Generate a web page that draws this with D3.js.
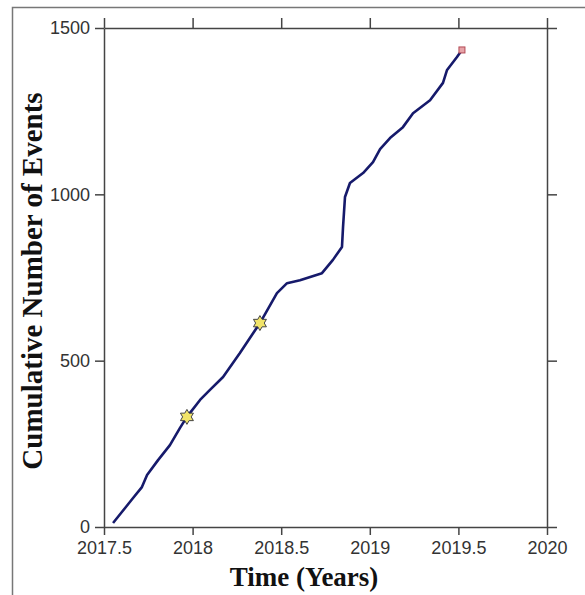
<!DOCTYPE html>
<html>
<head>
<meta charset="utf-8">
<script src="https://cdn.jsdelivr.net/npm/d3@7"></script>
<style>
  body { margin: 0; background: #fff; }
  .axis path, .axis line { stroke: #444; stroke-width: 1.5; }
  .axis text { font-family: Arial, "Liberation Sans", sans-serif; font-size: 18px; fill: #333; }
  .title { font-family: "Times New Roman", "Liberation Serif", serif; font-weight: bold; fill: #111; }
</style>
</head>
<body>
<svg id="chart"></svg>
<script>
// cumulative event count (time in decimal years)
let times = [2017.551, 2017.619, 2017.664, 2017.714, 2017.743, 2017.805, 2017.872, 2017.929, 2017.968,
             2018.042, 2018.098, 2018.172, 2018.267, 2018.380, 2018.476, 2018.533, 2018.606, 2018.730,
             2018.792, 2018.843, 2018.849, 2018.860, 2018.888, 2018.962, 2019.018, 2019.058, 2019.114,
             2019.187, 2019.244, 2019.340, 2019.413, 2019.436, 2019.492, 2019.520];
let counts = [12, 57, 87, 120, 156, 201, 246, 298, 331,
              382, 412, 451, 523, 613, 703, 733, 742, 763,
              803, 842, 902, 992, 1034, 1064, 1097, 1136, 1169,
              1202, 1244, 1283, 1335, 1374, 1413, 1434];

// starred events and the last event
let starTimes = [2017.968, 2018.380];
let starCounts = [331, 613];
let lastTime = 2019.520, lastCount = 1434;

let xTicks = [2017.5, 2018, 2018.5, 2019, 2019.5, 2020];
let yTicks = [0, 500, 1000, 1500];

let svg = d3.select("#chart")
    .attr("width", 585)
    .attr("height", 595);

// outer frame (runs off the right and bottom edge)
svg.append("rect")
    .attr("x", 12.5).attr("y", 7.5)
    .attr("width", 600).attr("height", 600)
    .attr("fill", "none")
    .attr("stroke", "#777")
    .attr("stroke-width", 1.5);

let x = d3.scaleLinear().domain([2017.5, 2020]).range([104, 547]);
let y = d3.scaleLinear().domain([0, 1500]).range([527, 28]);

// axes on all four sides, labels only bottom and left
svg.append("g").attr("class", "axis")
    .attr("transform", "translate(0,527)")
    .call(d3.axisBottom(x).tickValues(xTicks).tickFormat(d3.format("")).tickSize(8).tickSizeOuter(0).tickPadding(6));

svg.append("g").attr("class", "axis")
    .attr("transform", "translate(0,28)")
    .call(d3.axisTop(x).tickValues(xTicks).tickFormat("").tickSize(10).tickSizeOuter(0));

svg.append("g").attr("class", "axis")
    .attr("transform", "translate(104,0)")
    .call(d3.axisLeft(y).tickValues(yTicks).tickFormat(d3.format("d")).tickSize(9).tickSizeOuter(0).tickPadding(5));

svg.append("g").attr("class", "axis")
    .attr("transform", "translate(547,0)")
    .call(d3.axisRight(y).tickValues(yTicks).tickFormat("").tickSize(10).tickSizeOuter(0));

// the cumulative curve
let pts = times.map((t, i) => [t, counts[i]]);
let line = d3.line()
    .x(d => x(d[0]))
    .y(d => y(d[1]));

svg.append("path")
    .datum(pts)
    .attr("d", line)
    .attr("fill", "none")
    .attr("stroke", "#161a6b")
    .attr("stroke-width", 2.6)
    .attr("stroke-linejoin", "round");

// six pointed star symbol
let star6 = {
    draw: function (ctx, size) {
        let r = Math.sqrt(size);
        for (let i = 0; i < 12; i++) {
            let a = -Math.PI / 2 + i * Math.PI / 6;
            let rr = i % 2 === 0 ? r : r * 0.577;
            if (i === 0) ctx.moveTo(rr * Math.cos(a), rr * Math.sin(a));
            else ctx.lineTo(rr * Math.cos(a), rr * Math.sin(a));
        }
        ctx.closePath();
    }
};

svg.append("g")
    .selectAll("path")
    .data(starTimes.map((t, i) => [t, starCounts[i]]))
    .enter().append("path")
    .attr("transform", d => "translate(" + x(d[0]) + "," + y(d[1]) + ")")
    .attr("d", d3.symbol().type(star6).size(56))
    .attr("fill", "#f1e46a")
    .attr("stroke", "#444")
    .attr("stroke-width", 1);

// last event marker
svg.append("rect")
    .attr("x", x(lastTime) - 3)
    .attr("y", y(lastCount) - 3)
    .attr("width", 6).attr("height", 6)
    .attr("fill", "#e7a3a8")
    .attr("stroke", "#b24a55")
    .attr("stroke-width", 1);

// axis titles
svg.append("text")
    .attr("class", "title")
    .attr("x", 304).attr("y", 586)
    .attr("text-anchor", "middle")
    .style("font-size", "27px")
    .text("Time (Years)");

svg.append("text")
    .attr("class", "title")
    .attr("transform", "translate(42,281) rotate(-90)")
    .attr("text-anchor", "middle")
    .style("font-size", "29px")
    .text("Cumulative Number of Events");
</script>
</body>
</html>
